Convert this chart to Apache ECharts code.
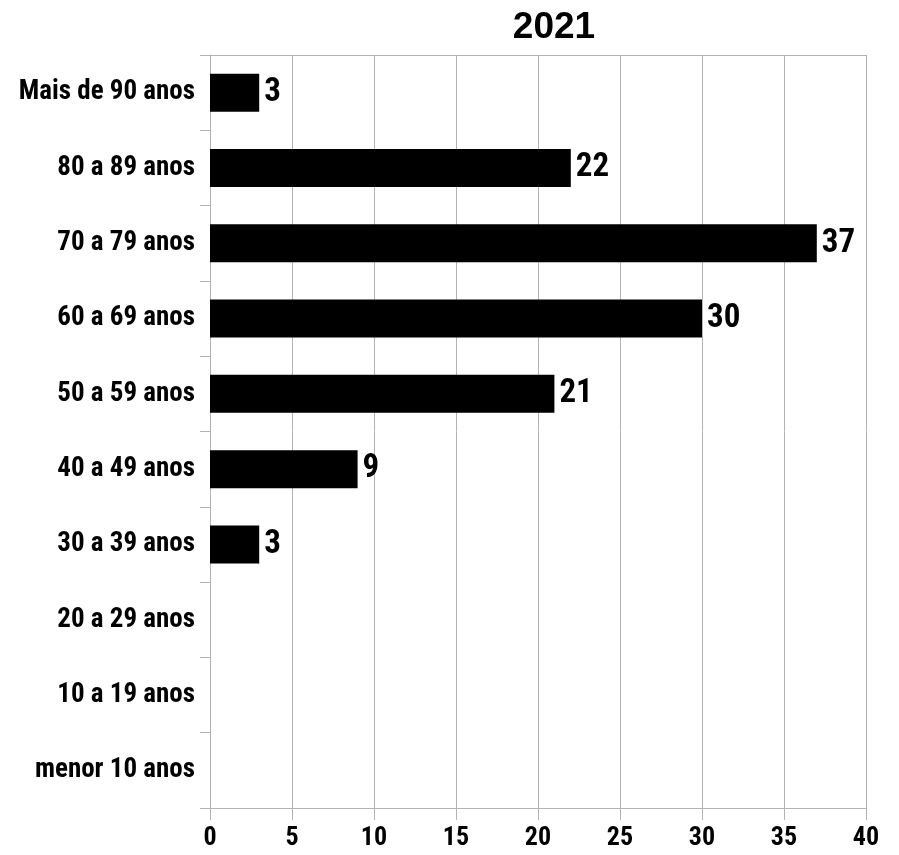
<!DOCTYPE html>
<html>
<head>
<meta charset="utf-8">
<script src="https://cdn.jsdelivr.net/npm/echarts@6/dist/echarts.min.js"></script>
<style>
html,body{margin:0;padding:0;background:#fff;}
#c{width:899px;height:855px;}
</style>
</head>
<body>
<div id="c"></div>
<script>
const title = '2021';
const categories = ['menor 10 anos','10 a 19 anos','20 a 29 anos','30 a 39 anos','40 a 49 anos','50 a 59 anos','60 a 69 anos','70 a 79 anos','80 a 89 anos','Mais de 90 anos'];
const values = [null, null, null, 3, 9, 21, 30, 37, 22, 3];
const xTicks = [0, 5, 10, 15, 20, 25, 30, 35, 40];

const grey = '#b3b3b3';
const narrow = '"Roboto Condensed", "Liberation Sans Narrow", sans-serif';
const chart = echarts.init(document.getElementById('c'), null, {renderer: 'canvas'});
chart.setOption({
  animation: false,
  backgroundColor: '#fff',
  title: {
    text: title,
    left: 549, textAlign: 'center', top: 4,
    textStyle: {fontFamily: '"Liberation Sans", sans-serif', fontWeight: 'bold', fontSize: 37, color: '#000'}
  },
  grid: {left: 210, right: 33, top: 55, bottom: 47, containLabel: false},
  xAxis: [{
    type: 'value', min: xTicks[0], max: xTicks[xTicks.length-1], interval: 5,
    axisLine: {show: true, lineStyle: {color: grey, width: 1}},
    axisTick: {show: true, length: 12, lineStyle: {color: grey}},
    splitLine: {show: true, lineStyle: {color: grey, width: 1}},
    axisLabel: {margin: 17, fontFamily: narrow, fontWeight: 'bold', fontSize: 26, color: '#000'}
  }, {
    type: 'value', position: 'top', min: 0, max: 40,
    axisLine: {show: true, lineStyle: {color: grey, width: 1}},
    axisTick: {show: false}, axisLabel: {show: false}, splitLine: {show: false}
  }],
  yAxis: {
    type: 'category', data: categories,
    axisLine: {show: true, lineStyle: {color: grey, width: 1}},
    axisTick: {show: true, length: 10, lineStyle: {color: grey}},
    axisLabel: {margin: 15, fontFamily: narrow, fontWeight: 'bold', fontSize: 27, color: '#000'}
  },
  series: [{
    type: 'bar', xAxisIndex: 0,
    data: values.map(v => v === null ? '-' : v),
    barWidth: 38,
    itemStyle: {color: '#000'},
    label: {show: true, position: 'right', distance: 5, fontFamily: narrow, fontWeight: 'bold', fontSize: 33, color: '#000'}
  }]
});
</script>
</body>
</html>
